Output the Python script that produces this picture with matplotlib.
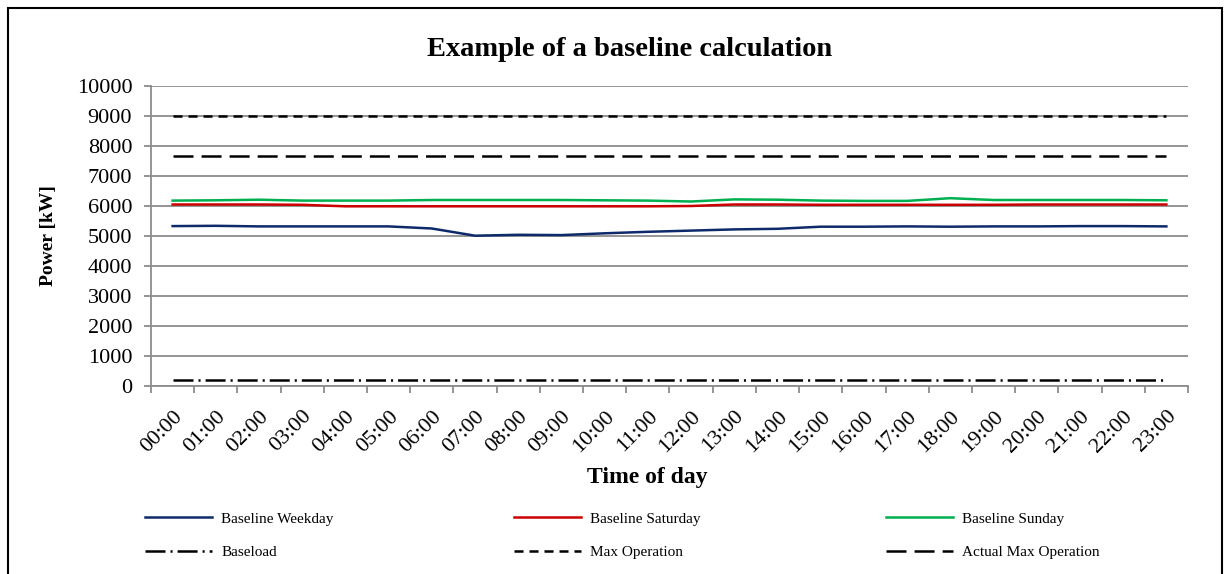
import matplotlib
matplotlib.use("Agg")
import matplotlib.pyplot as plt
from matplotlib.patches import Rectangle

hours = ["%02d:00" % h for h in range(24)]

weekday = [5330, 5340, 5320, 5320, 5320, 5320, 5250, 5010, 5040, 5030, 5090, 5140,
           5180, 5220, 5240, 5310, 5310, 5320, 5310, 5320, 5320, 5330, 5330, 5320]
saturday = [6050, 6050, 6050, 6040, 5990, 5990, 5990, 5990, 5990, 5990, 5990, 5990,
            6000, 6050, 6050, 6040, 6040, 6040, 6040, 6040, 6050, 6050, 6050, 6050]
sunday = [6180, 6190, 6210, 6180, 6180, 6180, 6200, 6200, 6200, 6200, 6190, 6180,
          6150, 6220, 6210, 6180, 6170, 6170, 6260, 6200, 6200, 6200, 6200, 6190]
baseload = [200] * 24
max_operation = [9000] * 24
actual_max = [7650] * 24

plt.rcParams['font.family'] = ['Liberation Serif', 'DejaVu Serif']
plt.rcParams['lines.scale_dashes'] = False

fig = plt.figure(figsize=(12.3, 5.74), dpi=100)
ax = fig.add_axes([151 / 1230, 1 - 386 / 574, (1188 - 151) / 1230, 300 / 574])

x = list(range(24))
lw = 1.8
l_wd, = ax.plot(x, weekday, color='#0f2a6b', lw=lw, label='Baseline Weekday')
l_sa, = ax.plot(x, saturday, color='#cc0000', lw=lw, label='Baseline Saturday')
l_su, = ax.plot(x, sunday, color='#00b050', lw=lw, label='Baseline Sunday')
l_bl, = ax.plot(x, baseload, color='black', lw=lw, linestyle=(0, (14.4, 3.6, 1.5, 3.6)),
                label='Baseload')
l_mo, = ax.plot(x, max_operation, color='black', lw=lw, linestyle=(0, (6.5, 4.3)),
                label='Max Operation')
l_am, = ax.plot(x, actual_max, color='black', lw=lw, linestyle=(0, (14.4, 5.8)),
                label='Actual Max Operation')

ax.set_xlim(-0.5, 23.5)
ax.set_ylim(0, 10000)
ax.set_yticks(range(0, 10001, 1000))
ax.yaxis.grid(True, color='#8c8c8c', lw=1.3)
ax.set_axisbelow(True)
for s in ['top', 'right']:
    ax.spines[s].set_visible(False)
for s in ['left', 'bottom']:
    ax.spines[s].set_color('#8c8c8c')
    ax.spines[s].set_linewidth(1.3)

ax.set_xticks([i - 0.5 for i in range(25)])
ax.set_xticklabels([])
ax.set_xticks(x, minor=True)
ax.set_xticklabels(hours, minor=True, rotation=45, ha='right', va='top',
                   rotation_mode='anchor', fontsize=16)
ax.tick_params(axis='x', which='minor', length=0, pad=15)
ax.tick_params(axis='both', which='major', direction='out', length=5, width=1.3,
               color='#8c8c8c', labelsize=16)
ax.tick_params(axis='y', pad=8.5)

fig.text(630 / 1230, 1 - 50 / 574, 'Example of a baseline calculation',
         ha='center', va='center', fontsize=20.5, fontweight='bold')
fig.text(48 / 1230, 1 - 236 / 574, 'Power [kW]', ha='center', va='center',
         rotation=90, fontsize=14, fontweight='bold')
fig.text(647 / 1230, 1 - 477 / 574, 'Time of day', ha='center', va='center',
         fontsize=17, fontweight='bold')

cols = [([l_wd, l_bl], 145), ([l_sa, l_mo], 514), ([l_su, l_am], 886)]
for handles, xpos in cols:
    leg = fig.legend(handles=handles, loc='upper left',
                     bbox_to_anchor=(xpos / 1230, 1 - 512 / 574),
                     frameon=False, fontsize=11, handlelength=4.4,
                     handletextpad=0.6, labelspacing=1.3, borderaxespad=0,
                     borderpad=0)

fig.patches.append(Rectangle((7.5 / 1230, -0.02), (1222 - 7.5) / 1230, 1.02 - 7.5 / 574,
                             transform=fig.transFigure, fill=False,
                             edgecolor='black', lw=1.5))

fig.savefig('out.png', dpi=100)
